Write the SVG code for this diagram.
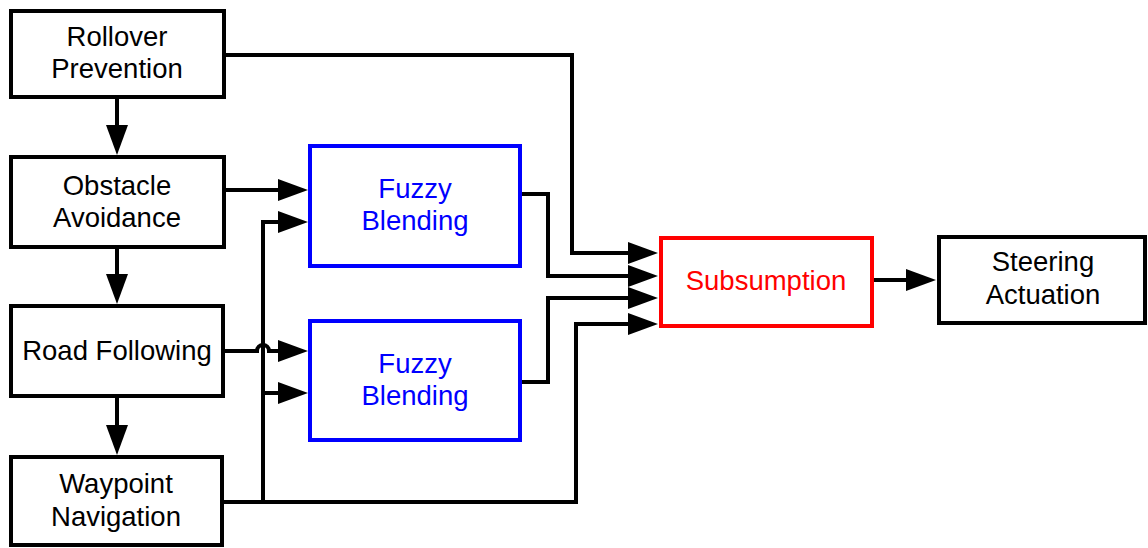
<svg xmlns="http://www.w3.org/2000/svg" width="1148" height="548" viewBox="0 0 1148 548">
<style>
.box{fill:#fff;stroke:#000;stroke-width:4}
.blue{stroke:#0000ff}
.red{stroke:#ff0000}
.t{font-family:"Liberation Sans",Arial,sans-serif;font-size:27.5px;text-anchor:middle;fill:#000}
.tb{fill:#0000ff}
.tr{fill:#ff0000}
.c{fill:none;stroke:#000;stroke-width:4;marker-end:url(#ah)}
.l{fill:none;stroke:#000;stroke-width:4}
</style>
<defs>
<marker id="ah" markerUnits="userSpaceOnUse" markerWidth="32" markerHeight="24" refX="0" refY="11" orient="auto" overflow="visible">
<path d="M0,0 L30,11 L0,22 z" fill="#000"/>
</marker>
</defs>
<g id="connectors">
<path class="c" d="M117,99 V125"/>
<path class="c" d="M117,249 V274"/>
<path class="c" d="M117,398 V425"/>
<path class="c" d="M226,190 H278"/>
<path class="c" d="M263,502 V222 H278"/>
<path class="c" d="M263,393 H278"/>
<path class="c" d="M225,351 H257 A6,6 0 0 1 269,351 H278"/>
<path class="c" d="M224,502 H576 V324 H628"/>
<path class="c" d="M226,55 H572 V253 H628"/>
<path class="c" d="M522,194 H548 V276 H628"/>
<path class="c" d="M522,382 H548 V298 H628"/>
<path class="c" d="M874,280 H906"/>
</g>
<g id="rollover">
<rect class="box" x="11" y="11" width="213" height="86"/>
<text class="t" x="117" y="46">Rollover</text>
<text class="t" x="117" y="78">Prevention</text>
</g>
<g id="obstacle">
<rect class="box" x="11" y="157" width="213" height="90"/>
<text class="t" x="117" y="195">Obstacle</text>
<text class="t" x="117" y="227">Avoidance</text>
</g>
<g id="road">
<rect class="box" x="11" y="306" width="212" height="90"/>
<text class="t" x="117" y="360">Road Following</text>
</g>
<g id="waypoint">
<rect class="box" x="11" y="457" width="211" height="88"/>
<text class="t" x="116" y="493">Waypoint</text>
<text class="t" x="116" y="526">Navigation</text>
</g>
<g id="fuzzy1">
<rect class="box blue" x="310" y="146" width="210" height="120"/>
<text class="t tb" x="415" y="198">Fuzzy</text>
<text class="t tb" x="415" y="230">Blending</text>
</g>
<g id="fuzzy2">
<rect class="box blue" x="310" y="321" width="210" height="119"/>
<text class="t tb" x="415" y="373">Fuzzy</text>
<text class="t tb" x="415" y="405">Blending</text>
</g>
<g id="subsumption">
<rect class="box red" x="661" y="238" width="211" height="88"/>
<text class="t tr" x="766" y="290">Subsumption</text>
</g>
<g id="steering">
<rect class="box" x="939" y="237" width="206" height="86"/>
<text class="t" x="1043" y="271">Steering</text>
<text class="t" x="1043" y="304">Actuation</text>
</g>
</svg>
